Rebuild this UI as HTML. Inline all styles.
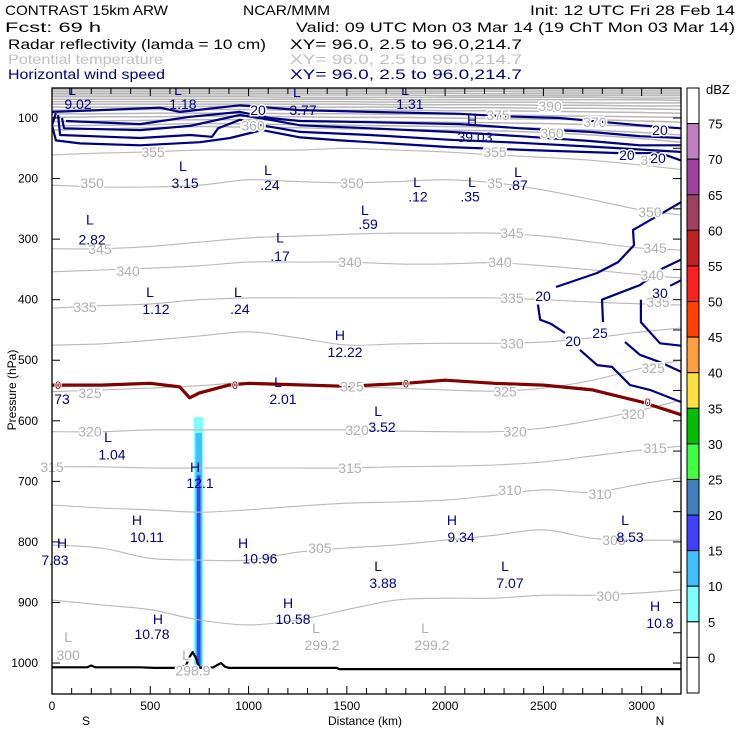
<!DOCTYPE html>
<html><head><meta charset="utf-8"><style>
html,body{margin:0;padding:0;background:#fff}
svg{display:block;font-family:"Liberation Sans",sans-serif}
</style></head><body>
<svg id="chart" width="740" height="740" viewBox="0 0 740 740" xmlns="http://www.w3.org/2000/svg">
<g font-size="14">
<text x="5" y="15" textLength="163" lengthAdjust="spacingAndGlyphs">CONTRAST 15km ARW</text>
<text x="243" y="15" textLength="87" lengthAdjust="spacingAndGlyphs">NCAR/MMM</text>
<text x="530" y="15" textLength="205" lengthAdjust="spacingAndGlyphs">Init: 12 UTC Fri 28 Feb 14</text>
<text x="5" y="32" textLength="96" lengthAdjust="spacingAndGlyphs">Fcst:    69 h</text>
<text x="296" y="32" textLength="439" lengthAdjust="spacingAndGlyphs">Valid: 09 UTC Mon 03 Mar 14 (19 ChT Mon 03 Mar 14)</text>
<text x="8" y="49" textLength="258" lengthAdjust="spacingAndGlyphs">Radar reflectivity (lamda = 10 cm)</text>
<text x="290" y="49" textLength="232" lengthAdjust="spacingAndGlyphs">XY=  96.0,  2.5 to  96.0,214.7</text>
<text x="8" y="64" fill="#c0c0c0" textLength="155" lengthAdjust="spacingAndGlyphs">Potential temperature</text>
<text x="290" y="64" fill="#c0c0c0" textLength="232" lengthAdjust="spacingAndGlyphs">XY=  96.0,  2.5 to  96.0,214.7</text>
<text x="8" y="79" fill="#000080" textLength="157" lengthAdjust="spacingAndGlyphs">Horizontal wind speed</text>
<text x="290" y="79" fill="#000080" textLength="232" lengthAdjust="spacingAndGlyphs">XY=  96.0,  2.5 to  96.0,214.7</text>
</g>
<defs><clipPath id="plotclip"><rect x="52" y="88" width="629" height="606"/></clipPath><clipPath id="labclip"><rect x="30" y="88" width="651" height="606"/></clipPath></defs>
<g id="plot" clip-path="url(#plotclip)"></g>
<g id="labels" clip-path="url(#labclip)"></g>
<g id="axes"></g>
<g id="cbar"></g>
</svg>
<script>
const NS="http://www.w3.org/2000/svg";
// ---- data ----
const xNodes=[0,250,500,750,1000,1250,1500,1750,2000,2250,2500,2750,3000,3200];
const thetaLevels=[300,305,310,315,320,325,330,335,340,345,350,355,360,365,370,375,380,385,390,395,400,405,410,415,420,430,440,450];
const theta300=[896,904,912,929,937,929,912,896,893,893,888,888,884,879];
const theta305=[805,810,827,830,830,817,810,805,797,789,780,794,797,797];
const theta310=[739,744,747,751,747,741,736,734,731,723,714,718,704,694];
const theta315=[676,676,678,678,678,678,678,676,675,673,668,658,648,642];
const theta320=[618,618,615,615,615,615,615,617,618,618,612,599,582,566];
const theta325=[552,549,546,542,537,541,544,546,549,551,546,533,513,500];
const theta330=[475,473,467,460,453,463,475,473,472,472,470,463,453,447];
const theta335=[414,410,407,400,397,397,397,397,397,397,400,404,407,409];
const theta340=[354,351,348,344,338,338,338,341,341,339,344,351,359,364];
const theta345=[316,316,312,305,298,295,292,290,290,290,295,305,315,318];
const theta350=[211,214,214,211,202,205,207,205,202,207,219,235,252,260];
const theta355=[161,158,156,153,153,153,150,153,156,161,165,170,178,185];
const theta360=[120,118,116,114,115,116,118,119,120,121,124,128,134,140];
const theta365=[113,112,111,109,110,111,112,113,114,115,117,120,124,128];
const theta370=[106,105,104,103,103,104,105,106,107,108,109,111,114,117];
const theta375=[99,98,98,97,97,98,99,99,100,101,102,103,105,107];
const theta380=[93,93,92,92,92,93,93,94,94,95,96,97,98,99];
const theta385=[87,87,86,86,86,87,87,87,88,88,89,90,91,92];
const theta390=[82,82,82,81,81,82,82,82,83,83,84,84,85,86];
const theta395=[77,77,77,77,77,77,77,78,78,78,79,79,80,80];
const theta400=[73,73,73,73,73,73,73,74,74,74,74,75,75,75];
const theta405=[69,69,69,69,69,69,69,70,70,70,70,70,70,71];
const theta410=[65,65,65,65,65,66,66,66,66,66,66,66,67,67];
const theta415=[62,62,62,62,62,62,62,62,63,63,63,63,63,63];
const theta420=[59,59,59,59,59,59,59,59,59,60,60,60,60,60];
const theta430=[56,56,56,56,56,56,56,56,56,56,57,57,57,57];
const theta440=[53,53,53,53,53,53,53,53,53,53,54,54,54,54];
const theta450=[51,51,51,51,51,51,51,51,51,51,51,51,51,51];
const thetaSeries=[theta300,theta305,theta310,theta315,theta320,theta325,theta330,theta335,theta340,theta345,theta350,theta355,theta360,theta365,theta370,theta375,theta380,theta385,theta390,theta395,theta400,theta405,theta410,theta415,theta420,theta430,theta440,theta450];
// wind contours (km, hPa)
const jet1Km=[20,0,20,142,448,753,906,1068,1262,1465,1618,2025,2432,2890,3093,3200];
const jet1P=[92,112,137,142,145,140,133,120,132,137,140,148,153,158,158,170];
const jet2Km=[31,41,448,702,814,845,956,1068,1262,1618,2025,2381,2788,3042,3200];
const jet2P=[95,128,133,128,131,117,103,112,123,128,136,141,148,153,156];
const jet3Km=[51,61,448,702,956,1109,1262,1618,2025,2381,2737,2991,3200];
const jet3P=[100,117,120,113,95,103,112,117,123,130,138,145,145];
const jet4Km=[71,448,702,956,1109,1262,1618,2076,2381,2737,2991,3200];
const jet4P=[105,110,98,90,100,105,107,110,117,123,130,133];
const jetTopKm=[0,244,549,651,956,1262,1618,2076,2279,2584,2991,3200];
const jetTopP=[90,87,83,90,79,87,90,93,97,100,112,117];
const wind20aKm=[3200,2956,2961,2880,2773,2564];
const wind20aP=[239,285,310,338,356,379];
const wind20bKm=[2472,2483,2539,2610];
const wind20bP=[408,433,440,455];
const wind20cKm=[2686,2773,2849,2941,3042,3200];
const wind20cP=[483,508,511,541,549,569];
const wind25Km=[3200,3108,2991,2798,2803];
const wind25P=[334,348,376,400,437];
const wind25bKm=[2915,2991,3093,3200];
const wind25bP=[470,491,503,519];
const wind30Km=[3200,3145];
const wind30P=[368,377];
const wind30bKm=[2996,2996,3093,3200];
const wind30bP=[400,437,472,476];
// freezing line
const frzKm=[0,250,500,650,700,750,900,1000,1500,1800,2000,2250,2500,2750,3000,3200];
const frzP=[541,541,538,544,562,554,541,538,543,538,533,538,541,549,569,590];
// terrain
const terKm=[0,180,200,220,450,520,620,680,700,715,730,750,780,820,860,880,900,1450,1460,3200];
const terP=[1007,1007,1004,1007,1007,1008,1008,1005,990,982,990,1008,1008,1007,1000,1006,1008,1008,1010,1010];
// radar column
const radarDbz=[5,10,15];
const radarKm0=[722,730,737];
const radarKm1=[768,763,755];
const radarTopP=[594,620,690];
// blue labels
const hlText=["L","9.02","L","1.18","L","3.77","L","1.31","H","39.03","L","3.15","L",".24","L",".12","L",".35","L",".87","L","2.82","L",".59","L",".17","L","1.12","L",".24","H","12.22","73","L","2.01","L","3.52","L","1.04","H","12.1","H","7.83","H","10.11","H","10.96","H","9.34","L","8.53","L","3.88","L","7.07","H","10.58","H","10.78","H","10.8","20","20","20","20","20","20","25","30"];
const hlKm=[102,132,641,666,1246,1277,1796,1821,2137,2152,666,677,1099,1109,1857,1862,2137,2127,2371,2371,193,204,1592,1608,1160,1160,499,529,946,956,1465,1491,51,1150,1175,1659,1679,285,305,728,753,51,15,432,483,972,1058,2035,2081,2915,2941,1659,1684,2305,2330,1201,1226,539,509,3068,3093,1048,3093,2925,3083,2498,2651,2788,3093];
const hlP=[54,77,54,77,57,87,54,77,103,131,179,207,186,211,206,230,206,230,189,211,268,301,252,275,297,328,387,415,387,415,458,486,564,536,564,584,610,627,656,676,703,802,830,764,792,802,827,764,792,764,792,840,868,840,868,901,927,927,952,906,934,87,120,161,166,394,468,455,389];
// gray labels
const glText=["L","300","L","299.2","L","299.2","L","298.9","390","375","370","360","355","360","355","355","350","350","35","350","345","345","345","340","340","340","340","335","335","335","330","325","325","325","325","320","320","320","320","315","315","315","310","310","305","305","300"];
const glKm=[82,82,1343,1374,1898,1933,682,717,2534,2269,2762,2544,2254,1023,514,3053,204,1526,2254,3042,244,2340,3068,387,1516,2279,3053,168,2340,3083,2340,193,1526,2305,3058,193,1552,2356,2956,0,1516,3068,2330,2788,1363,2859,2829];
const glP=[957,987,942,970,942,970,987,1012,80,95,107,125,156,112,156,169,207,207,207,255,316,290,315,353,338,338,359,412,397,404,472,554,543,552,513,618,615,618,589,676,678,645,714,721,810,797,889];
// ---- axes functions ----
const xs=km=>52+km*0.19656;
const yp=p=>118+(p-100)*0.6056;
const plot=document.getElementById('plot');
const labels=document.getElementById('labels');
const axes=document.getElementById('axes');
const cbar=document.getElementById('cbar');
function mk(tag,parent,attrs){const e=document.createElementNS(NS,tag);for(const k in attrs)e.setAttribute(k,attrs[k]);parent.appendChild(e);return e;}
function pts(ks,ps){return ks.map((k,i)=>xs(k).toFixed(1)+","+yp(ps[i]).toFixed(1)).join(" ");}
function smoothPath(ks,ps){
  const P=ks.map((k,i)=>[xs(k),yp(ps[i])]);
  let d="M"+P[0][0].toFixed(1)+","+P[0][1].toFixed(1);
  for(let i=0;i<P.length-1;i++){const p0=P[Math.max(0,i-1)],p1=P[i],p2=P[i+1],p3=P[Math.min(P.length-1,i+2)];
    const c1=[p1[0]+(p2[0]-p0[0])/6,p1[1]+(p2[1]-p0[1])/6],c2=[p2[0]-(p3[0]-p1[0])/6,p2[1]-(p3[1]-p1[1])/6];
    d+=" C"+c1[0].toFixed(1)+","+c1[1].toFixed(1)+" "+c2[0].toFixed(1)+","+c2[1].toFixed(1)+" "+p2[0].toFixed(1)+","+p2[1].toFixed(1);}
  return d;}
// radar
radarDbz.forEach((d,i)=>{
  const col=["#80ffff","#40c0ff","#4040ff"][i];
  const r=mk('rect',plot,{x:xs(radarKm0[i]),y:yp(radarTopP[i]),width:xs(radarKm1[i])-xs(radarKm0[i]),height:yp(1008)-yp(radarTopP[i]),fill:col});
  
  
});
// isentropes
thetaSeries.forEach((s,i)=>{
  const pth=mk('path',plot,{d:smoothPath(xNodes,s),fill:"none",stroke:"#b8b8b8","stroke-width":thetaLevels[i]>=360?1.5:1.1});
  
  
});
// wind
const jets=[[jet1Km,jet1P],[jet2Km,jet2P],[jet3Km,jet3P],[jet4Km,jet4P],[jetTopKm,jetTopP],[wind20aKm,wind20aP],[wind20bKm,wind20bP],[wind20cKm,wind20cP],[wind25Km,wind25P],[wind25bKm,wind25bP],[wind30Km,wind30P],[wind30bKm,wind30bP]];
jets.forEach((j,i)=>{
  const pl=mk('polyline',plot,{points:pts(j[0],j[1]),fill:"none",stroke:"#000080","stroke-width":2.2,"stroke-linejoin":"round"});
  
  
});
// freezing level
const fz=mk('polyline',plot,{points:pts(frzKm,frzP),fill:"none",stroke:"#800000","stroke-width":3.2,"stroke-linejoin":"round"});


// terrain
const tr=mk('polyline',plot,{points:pts(terKm,terP),fill:"none",stroke:"#000","stroke-width":2.2,"stroke-linejoin":"round"});


// gray labels
glText.forEach((t,i)=>{
  const e=mk('text',labels,{x:xs(glKm[i]),y:yp(glP[i])+5,"text-anchor":"middle","font-size":14,fill:"#b0b0b0",stroke:"#fff","stroke-width":3,"paint-order":"stroke"});
  e.textContent=t;
  
  
});
// freezing labels
[0,900,1770,3000].forEach(k=>{
  const i=frzKm.findIndex(v=>v>=k);
  const e=mk('text',labels,{x:xs(k)+6,y:yp(frzP[Math.max(0,i)])+4,"text-anchor":"middle","font-size":11,fill:"#800000",stroke:"#fff","stroke-width":2,"paint-order":"stroke"});
  e.textContent="0";
  
  
});
// blue labels
hlText.forEach((t,i)=>{
  const e=mk('text',labels,{x:xs(hlKm[i]),y:yp(hlP[i])+5,"text-anchor":"middle","font-size":14,fill:"#000080"});
  if(i>=hlText.length-8){e.setAttribute('stroke','#fff');e.setAttribute('stroke-width','3');e.setAttribute('paint-order','stroke');}
  e.textContent=t;
  
  
});
// frame and ticks
const fr=mk('rect',axes,{x:52,y:88,width:629,height:606,fill:"none",stroke:"#000","stroke-width":1.3});


const xTickKm=[0,100,200,300,400,500,600,700,800,900,1000,1100,1200,1300,1400,1500,1600,1700,1800,1900,2000,2100,2200,2300,2400,2500,2600,2700,2800,2900,3000,3100];
const xLabelKm=[0,500,1000,1500,2000,2500,3000];
const yTickP=[100,200,300,400,500,600,700,800,900,1000];
xTickKm.forEach(k=>{
  const L=(k%500===0)?8:6;
  const a=mk('line',axes,{x1:xs(k),x2:xs(k),y1:694,y2:694-L,stroke:"#000"});
  
  
  const b=mk('line',axes,{x1:xs(k),x2:xs(k),y1:88,y2:88+L,stroke:"#000"});
  
  
});
xLabelKm.forEach(k=>{
  const t=mk('text',axes,{x:xs(k),y:710,"text-anchor":"middle","font-size":12});
  t.textContent=String(k);
  
  
});
yTickP.forEach(p=>{
  const a=mk('line',axes,{x1:52,x2:60,y1:yp(p),y2:yp(p),stroke:"#000"});
  
  
  const t=mk('text',axes,{x:38,y:yp(p)+4,"text-anchor":"end","font-size":12});
  t.textContent=String(p);
  
  
});
[100,150,200,250,300,350,400,450,500,550,600,650,700,750,800,850,900,950,1000].forEach(p=>{
  const a=mk('line',axes,{x1:681,x2:673,y1:yp(p),y2:yp(p),stroke:"#000"});
  
  
});
const yt=mk('text',axes,{x:16,y:390,"text-anchor":"middle","font-size":12,transform:"rotate(-90 16 390)"});
yt.textContent="Pressure (hPa)";


const xt=mk('text',axes,{x:365,y:725,"text-anchor":"middle","font-size":12});
xt.textContent="Distance (km)";


const sl=mk('text',axes,{x:86,y:725,"text-anchor":"middle","font-size":12});
sl.textContent="S";


const nl=mk('text',axes,{x:660,y:725,"text-anchor":"middle","font-size":12});
nl.textContent="N";


// colorbar
const cbColors=["#ffffff","#c080c0","#a040a0","#a04060","#c02020","#ff2020","#ff4000","#ffa040","#ffe040","#00c000","#40ff40","#4080c0","#4040ff","#40c0ff","#80ffff","#ffffff","#ffffff"];
const cbLabels=["75","70","65","60","55","50","45","40","35","30","25","20","15","10","5","0"];
const segH=605/17;
cbColors.forEach((c,i)=>{
  const r=mk('rect',cbar,{x:687,y:88+i*segH,width:12,height:segH,fill:c,stroke:"#000","stroke-width":1});
  
  
});
cbLabels.forEach((l,i)=>{
  const t=mk('text',cbar,{x:708,y:88+(i+1)*segH+5,"font-size":13});
  t.textContent=l;
  
  
});
const du=mk('text',cbar,{x:706,y:94,"font-size":13});
du.textContent="dBZ";


</script>
</body></html>
